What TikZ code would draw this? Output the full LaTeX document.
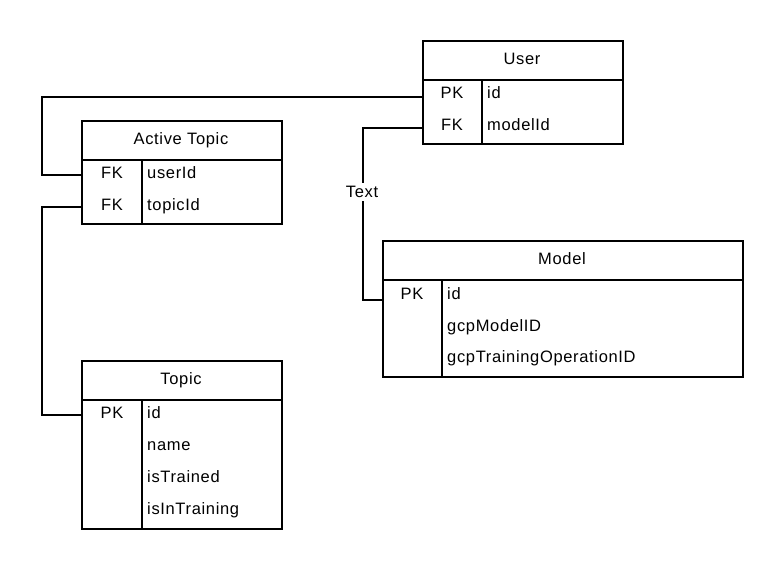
\documentclass[tikz,border=0pt]{standalone}
\usepackage{fontspec}
\setmainfont[LetterSpace=4]{Liberation Sans}
\begin{document}
\begin{tikzpicture}[x=1pt,y=-1pt,
  frame/.style={draw, line width=1.8pt, rectangle, inner sep=0pt, anchor=north west},
  sep/.style={line width=1.8pt},
  conn/.style={line width=1.8pt},
  lbl/.style={inner sep=0pt, font=\fontsize{16.5}{19}\selectfont},
  keyt/.style={lbl, anchor=base},
  fld/.style={lbl, anchor=base west},
  ttl/.style={lbl, anchor=base}]
\useasboundingbox[fill=white] (0,0) rectangle (782,568);

% ---------- User ----------
\node[frame, minimum width=200pt, minimum height=103pt] (user) at (422,40) {};
\draw[sep] (422,80) -- (622,80);
\draw[sep] (482,80) -- (482,143);
\node[ttl] (usert) at (522,64) {User};
\node[keyt] (userpk) at (452,98.5) {PK};
\node[keyt] (userfk) at (452,130) {FK};
\node[fld] (userid) at (487,98.5) {id};
\node[fld] (usermid) at (487,130) {modelId};

% ---------- Active Topic ----------
\node[frame, minimum width=200pt, minimum height=103pt] (at) at (81,120) {};
\draw[sep] (81,160) -- (281,160);
\draw[sep] (142,160) -- (142,223);
\node[ttl] (att) at (181,144) {Active Topic};
\node[keyt] (atfk1) at (112,178) {FK};
\node[keyt] (atfk2) at (112,210) {FK};
\node[fld] (atuid) at (147,178) {userId};
\node[fld] (attid) at (147,210) {topicId};

% ---------- Model ----------
\node[frame, minimum width=360pt, minimum height=136pt] (model) at (382,240) {};
\draw[sep] (382,280) -- (742,280);
\draw[sep] (442,280) -- (442,376);
\node[ttl] (modelt) at (562,264) {Model};
\node[keyt] (modelpk) at (412,299) {PK};
\node[fld] (modelid) at (447,299) {id};
\node[fld] (modelg1) at (447,331) {gcpModelID};
\node[fld] (modelg2) at (447,362) {gcpTrainingOperationID};

% ---------- Topic ----------
\node[frame, minimum width=200pt, minimum height=168pt] (topic) at (81,360) {};
\draw[sep] (81,400) -- (281,400);
\draw[sep] (142,400) -- (142,528);
\node[ttl] (topict) at (181,384) {Topic};
\node[keyt] (topicpk) at (112,418.5) {PK};
\node[fld] (topicid) at (147,418.5) {id};
\node[fld] (topicname) at (147,450.5) {name};
\node[fld] (topictr) at (147,482.5) {isTrained};
\node[fld] (topicin) at (147,514.5) {isInTraining};

% ---------- connectors ----------
\coordinate (j1) at (42,130);
\coordinate (j2) at (363,200);
\coordinate (j3) at (42,300);
\draw[conn] ([yshift=1.5pt]user.west |- userpk.base) -| (j1) |- ([yshift=3pt]at.west |- atfk1.base);
\draw[conn] ([yshift=2pt]user.west |- userfk.base) -| (j2) |- ([yshift=-1pt]model.west |- modelpk.base);
\draw[conn] ([yshift=3pt]at.west |- atfk2.base) -| (j3) |- ([yshift=3.5pt]topic.west |- topicpk.base);
\node[lbl, fill=white, inner ysep=3pt, inner xsep=1pt] (txt) at (362,192) {Text};
\end{tikzpicture}
\end{document}
